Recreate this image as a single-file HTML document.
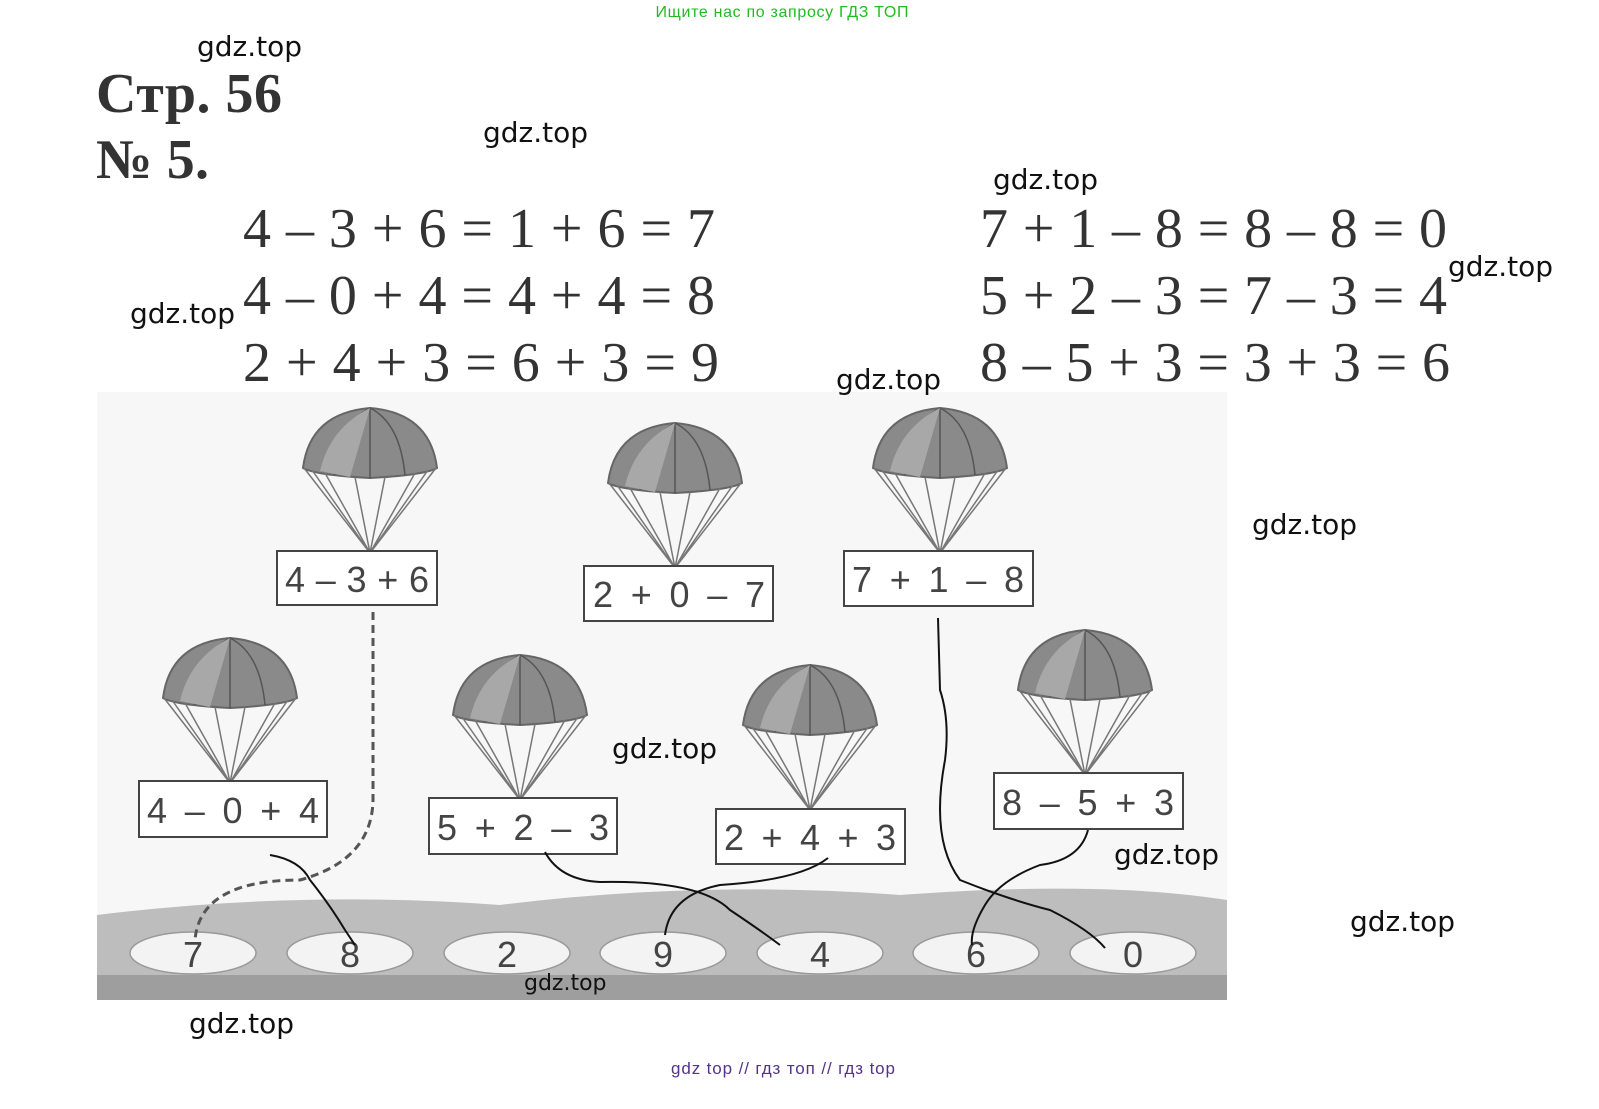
<!DOCTYPE html>
<html><head><meta charset="utf-8"><style>
body{margin:0;background:#fff;width:1599px;height:1104px;overflow:hidden;font-family:"Liberation Sans",sans-serif}
</style></head><body>
<svg width="1599" height="1104" viewBox="0 0 1599 1104" xmlns="http://www.w3.org/2000/svg">
<defs>
<g id="pc">
<path d="M-67,55 Q-60,0 0,-5 Q60,0 67,55 Q55,62 0,65 Q-55,62 -67,55Z" fill="#8a8a8a" stroke="#666" stroke-width="2"/>
<path d="M-35,62 Q-30,10 0,-5 M35,62 Q30,10 0,-5 M0,-5 L0,65" stroke="#555" stroke-width="1.5" fill="none"/>
<path d="M-50,58 Q-40,15 0,-5 L-20,64Z" fill="#a8a8a8"/>
<path d="M-66,55 L0,140 L66,55 M-45,60 L0,140 L45,60 M-15,64 L0,140 L15,64 M-58,57 L0,140 L58,57" stroke="#777" stroke-width="1.5" fill="none"/>
</g>
</defs>
<text x="782" y="17" font-size="16" fill="#22bb22" text-anchor="middle" textLength="253">Ищите нас по запросу ГДЗ ТОП</text>
<g font-family="Liberation Serif" font-weight="bold" fill="#333" font-size="56">
<text x="96" y="112" textLength="186">Стр. 56</text><text x="96" y="178" textLength="113">№ 5.</text></g>
<g font-family="Liberation Serif" fill="#333" font-size="56">
<text x="243" y="247" textLength="472">4 – 3 + 6 = 1 + 6 = 7</text>
<text x="243" y="314" textLength="472">4 – 0 + 4 = 4 + 4 = 8</text>
<text x="243" y="381" textLength="476">2 + 4 + 3 = 6 + 3 = 9</text>
<text x="980" y="247" textLength="467">7 + 1 – 8 = 8 – 8 = 0</text>
<text x="980" y="314" textLength="467">5 + 2 – 3 = 7 – 3 = 4</text>
<text x="980" y="381" textLength="470">8 – 5 + 3 = 3 + 3 = 6</text>
</g>
<rect x="97" y="392" width="1130" height="608" fill="#f7f7f7"/>
<path d="M97,915 Q300,890 500,905 Q700,880 900,895 Q1100,880 1227,900 L1227,1000 L97,1000Z" fill="#bdbdbd"/>
<path d="M97,975 L1227,975 L1227,1000 L97,1000Z" fill="#9e9e9e"/>
<g fill="#f3f3f3" stroke="#999" stroke-width="1.5">
<ellipse cx="193" cy="953" rx="63" ry="21"/><ellipse cx="350" cy="953" rx="63" ry="21"/><ellipse cx="507" cy="953" rx="63" ry="21"/><ellipse cx="663" cy="953" rx="63" ry="21"/><ellipse cx="820" cy="953" rx="63" ry="21"/><ellipse cx="976" cy="953" rx="63" ry="21"/><ellipse cx="1133" cy="953" rx="63" ry="21"/></g>
<g font-size="36" fill="#444" text-anchor="middle">
<text x="193" y="967">7</text><text x="350" y="967">8</text><text x="507" y="967">2</text><text x="663" y="967">9</text><text x="820" y="967">4</text><text x="976" y="967">6</text><text x="1133" y="967">0</text></g>
<use href="#pc" x="370" y="413"/><use href="#pc" x="675" y="428"/><use href="#pc" x="940" y="413"/>
<use href="#pc" x="230" y="643"/><use href="#pc" x="520" y="660"/><use href="#pc" x="810" y="670"/><use href="#pc" x="1085" y="635"/>
<g fill="#fff" stroke="#444" stroke-width="2">
<rect x="277" y="551" width="160" height="54"/><rect x="584" y="566" width="189" height="55"/><rect x="844" y="551" width="189" height="55"/>
<rect x="139" y="781" width="188" height="56"/><rect x="429" y="798" width="188" height="56"/><rect x="716" y="809" width="189" height="55"/><rect x="994" y="773" width="189" height="56"/></g>
<g font-size="36" fill="#444">
<text x="285" y="592" textLength="144">4 – 3 + 6</text><text x="593" y="607" textLength="172">2 + 0 – 7</text><text x="852" y="592" textLength="172">7 + 1 – 8</text>
<text x="147" y="823" textLength="172">4 – 0 + 4</text><text x="437" y="840" textLength="172">5 + 2 – 3</text><text x="724" y="850" textLength="172">2 + 4 + 3</text><text x="1002" y="815" textLength="172">8 – 5 + 3</text></g>
<path d="M373,612 L373,800 Q372,860 300,880 Q200,880 195,940" stroke="#555" stroke-width="3" stroke-dasharray="8,5" fill="none"/>
<g stroke="#111" stroke-width="2" fill="none">
<path d="M270,855 Q300,860 310,880 Q330,905 345,930 L355,945"/>
<path d="M545,852 Q560,880 600,882 Q700,880 730,910 Q760,930 780,945"/>
<path d="M828,858 Q800,880 720,885 Q670,895 665,935"/>
<path d="M938,618 L940,690 Q950,720 945,760 Q930,840 960,880 Q1010,900 1050,910 Q1090,930 1105,948"/>
<path d="M1088,830 Q1080,860 1040,865 Q1000,880 985,905 Q970,930 972,945"/>
</g>
<g font-family="DejaVu Sans, sans-serif" font-size="28" fill="#111">
<text x="197" y="56">gdz.top</text><text x="483" y="142">gdz.top</text><text x="993" y="189">gdz.top</text>
<text x="130" y="323">gdz.top</text><text x="1448" y="276">gdz.top</text><text x="836" y="389">gdz.top</text>
<text x="1252" y="534">gdz.top</text><text x="612" y="758">gdz.top</text><text x="1114" y="864">gdz.top</text>
<text x="1350" y="931">gdz.top</text><text x="189" y="1033">gdz.top</text>
<text x="524" y="990" font-size="22">gdz.top</text></g>
<text x="783" y="1074" font-size="17" fill="#553388" text-anchor="middle" textLength="224">gdz top  //  гдз топ  //  гдз top</text>
</svg>
</body></html>
